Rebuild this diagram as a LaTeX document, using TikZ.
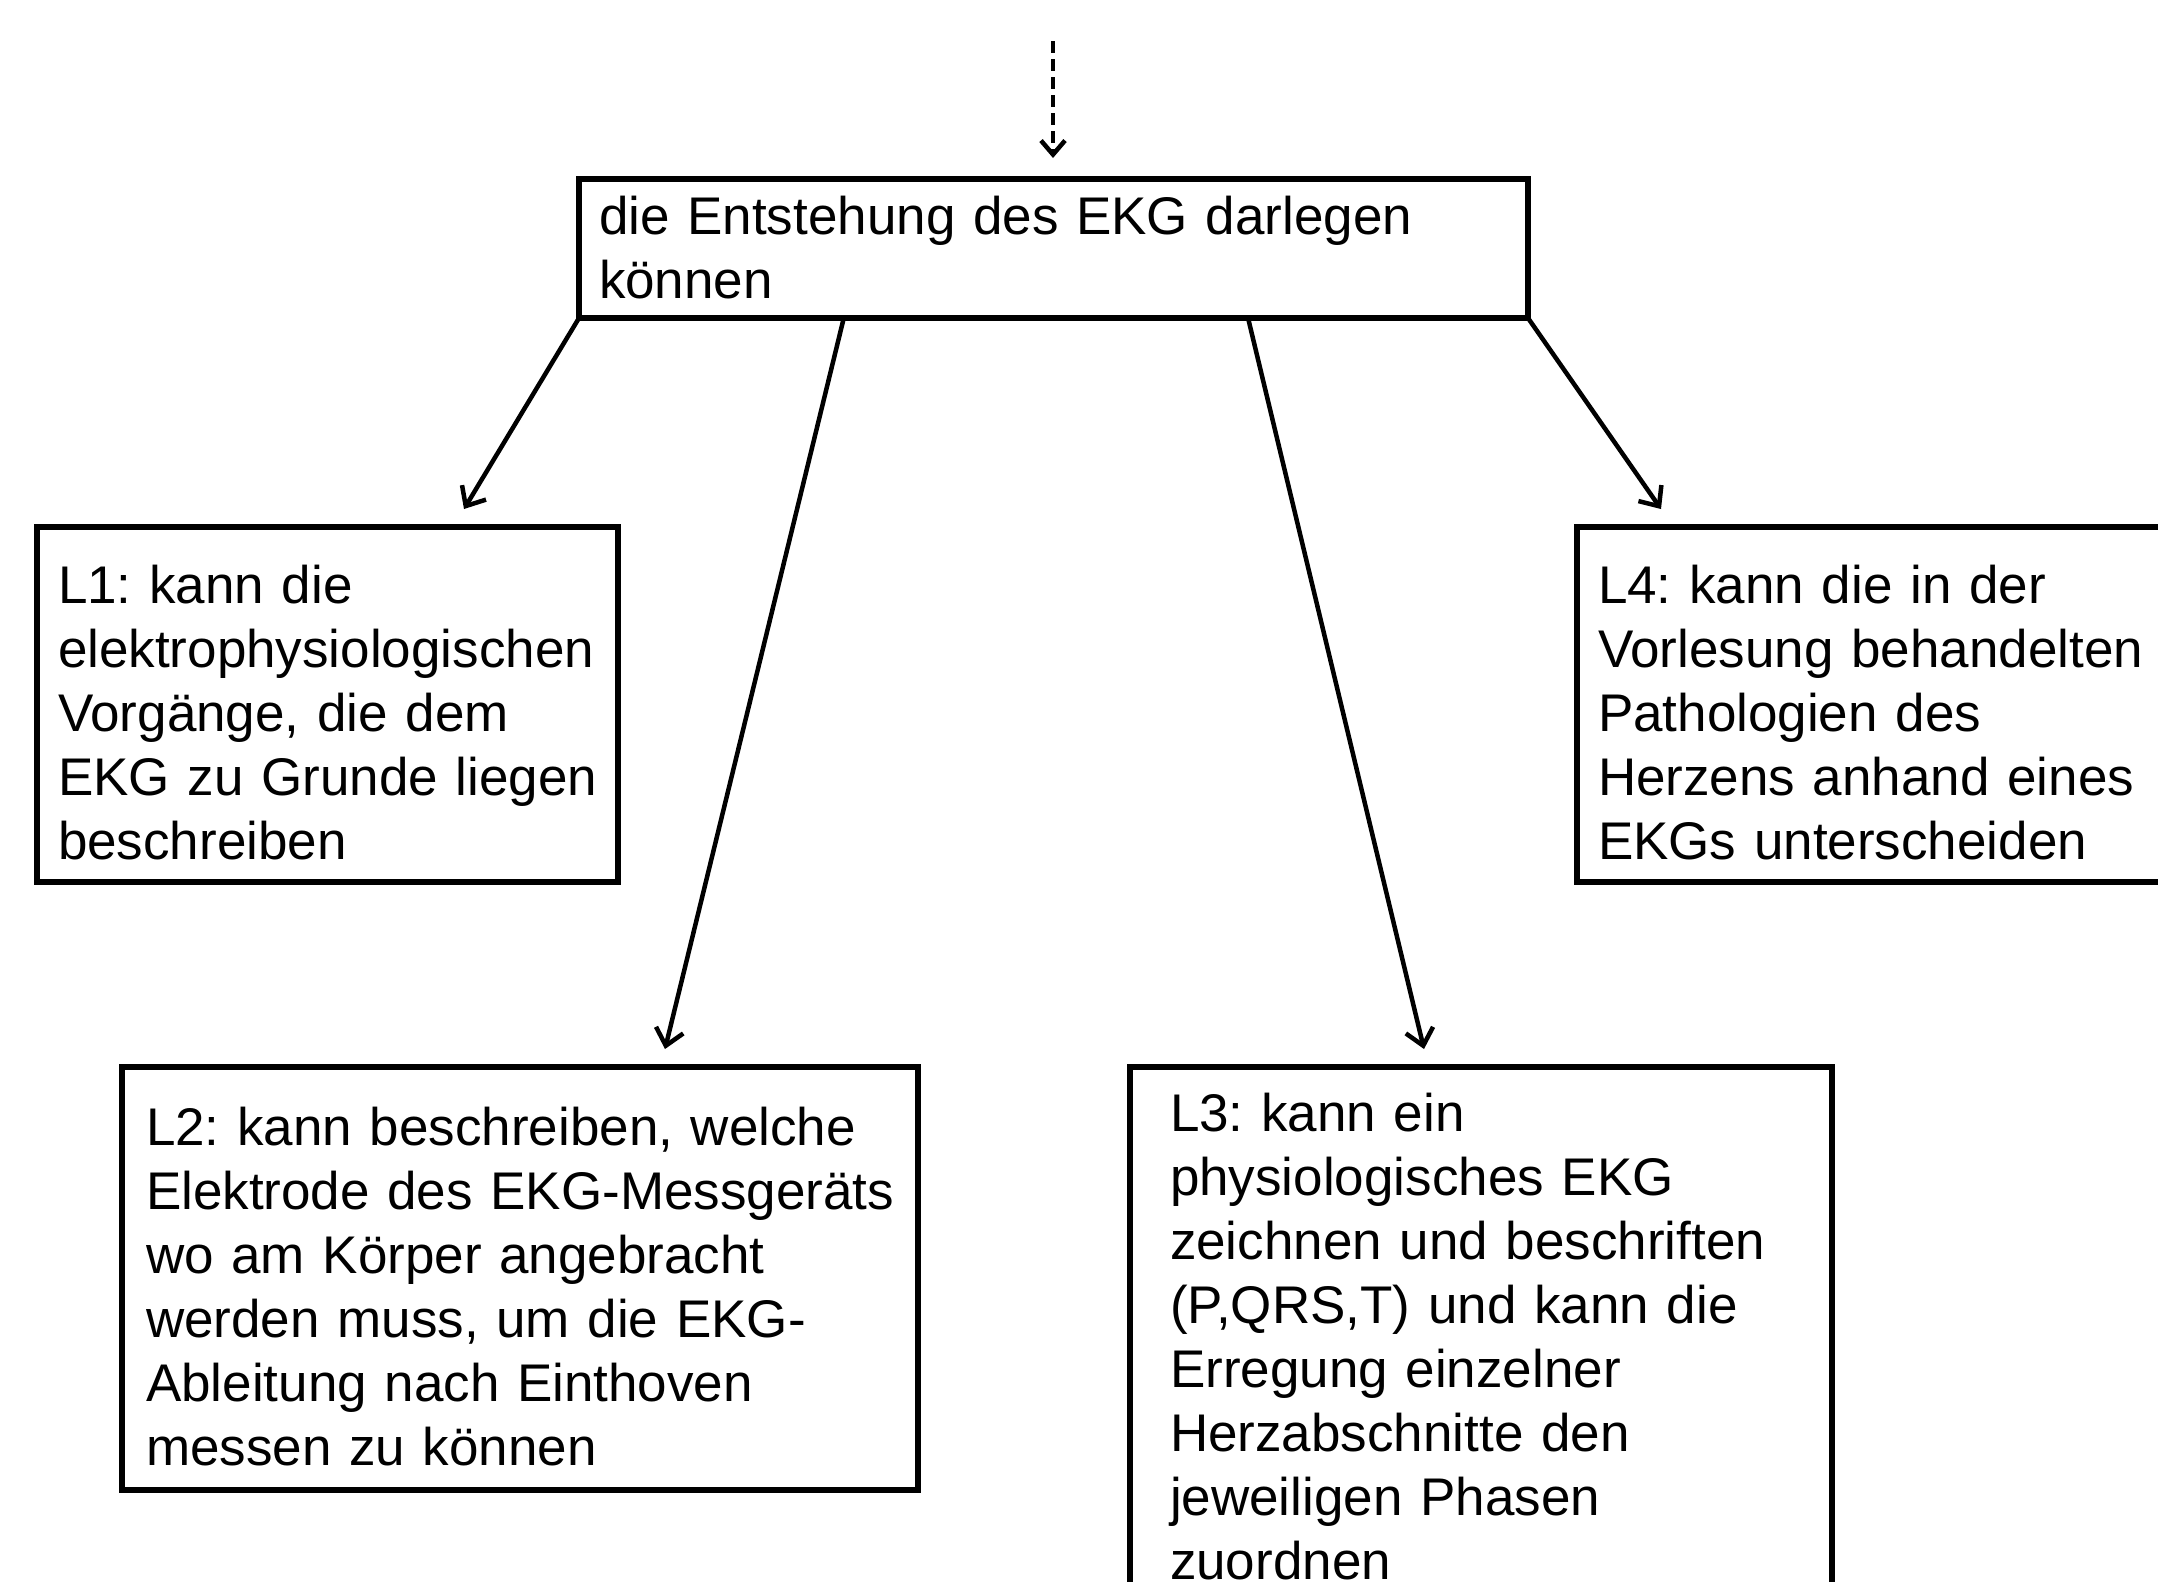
\documentclass[tikz,border=0pt]{standalone}
\usepackage{fontspec}
\setmainfont{Liberation Sans}
\usetikzlibrary{arrows.meta,calc}
\begin{document}
\frenchspacing
\begin{tikzpicture}[x=1pt,y=-1pt,
  box/.style={draw,line width=5.5pt,anchor=north west,inner sep=0pt,outer sep=0pt,fill=white},
  txt/.style={anchor=base west,inner sep=0pt,outer sep=0pt,align=left,text width=900pt,
    font=\fontsize{53}{64}\selectfont},
  conn/.style={line width=4.5pt,-{Straight Barb[length=16pt,width=28pt,line width=4.5pt]}},
  dconn/.style={line width=4.5pt,dash pattern=on 12pt off 6pt,-{Straight Barb[length=14pt,width=24pt,line width=4.5pt]}}
]
\useasboundingbox (0,0) rectangle (2158,1582);
\clip (0,0) rectangle (2158,1582);
\fill[white] (0,0) rectangle (2158,1582);

% boxes
\node[box,minimum width=949pt,minimum height=139pt] (top) at (579,179) {};
\node[box,minimum width=581pt,minimum height=355pt] (l1) at (37,527) {};
\node[box,minimum width=620pt,minimum height=355pt] (l4) at (1577,527) {};
\node[box,minimum width=796pt,minimum height=423pt] (l2) at (122,1067) {};
\node[box,minimum width=702pt,minimum height=560pt] (l3) at (1130,1067) {};

% texts
\node[txt] (ttop) at (599,234) {die Entstehung des EKG darlegen\\können};
\node[txt] (tl1) at (58,603) {L1: kann die\\elektrophysiologischen\\Vorgänge, die dem\\EKG zu Grunde liegen\\beschreiben};
\node[txt] (tl4) at (1598,603) {L4: kann die in der\\Vorlesung behandelten\\Pathologien des\\Herzens anhand eines\\EKGs unterscheiden};
\node[txt] (tl2) at (146,1145) {L2: kann beschreiben, welche\\Elektrode des EKG-Messgeräts\\wo am Körper angebracht\\werden muss, um die EKG-\\Ableitung nach Einthoven\\messen zu können};
\node[txt] (tl3) at (1170,1131) {L3: kann ein\\physiologisches EKG\\zeichnen und beschriften\\(P,QRS,T) und kann die\\Erregung einzelner\\Herzabschnitte den\\jeweiligen Phasen\\zuordnen};

% connector end points
\coordinate (in) at (1053,41);
\coordinate (intip) at (1053,158);
\coordinate (e1) at (464,509);
\coordinate (e2) at (665,1049);
\coordinate (e3) at (1424,1049);
\coordinate (e4) at (1661,509);

% connectors
\draw[dconn] (in) -- (intip);
\draw[conn] (top.south west) -- (e1);
\draw[conn] ($(top.south west)!0.279!(top.south east)$) -- (e2);
\draw[conn] ($(top.south west)!0.705!(top.south east)$) -- (e3);
\draw[conn] (top.south east) -- (e4);
\end{tikzpicture}
\end{document}
